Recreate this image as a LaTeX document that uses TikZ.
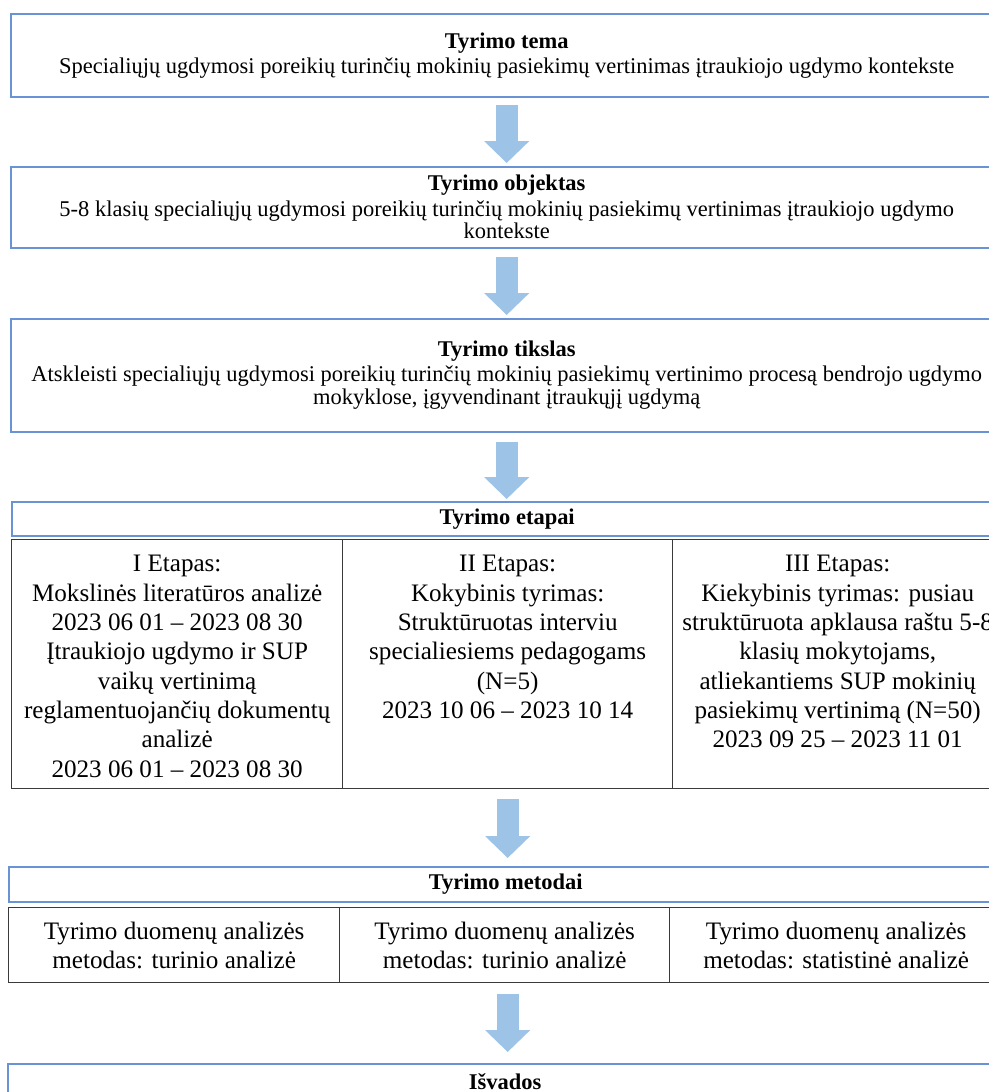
\documentclass[tikz,border=0pt]{standalone}
\usepackage{fontspec}
\setmainfont{Liberation Serif}
\usetikzlibrary{arrows.meta, calc}
\definecolor{cRemas}{HTML}{6A93D6}
\definecolor{cRodykle}{HTML}{9DC3E6}
\definecolor{cLinija}{HTML}{3A3A3A}

\begin{document}
\begin{tikzpicture}[
    x=0.02cm, y=-0.02cm, font=\fontsize{12.8}{12.9}\selectfont,
    blokas/.style={draw=cRemas, line width=0.9pt, anchor=north west,
                   inner sep=0pt, align=center, minimum width=19.84cm},
    galva/.style={blokas, font=\fontsize{12.8}{12.9}\selectfont\bfseries},
    langelis/.style={draw=cLinija, line width=0.8pt, anchor=north west,
                     inner sep=0pt, align=center},
    tekstas/.style={font=\fontsize{14.3}{16.7}\selectfont, align=center,
                    inner sep=0pt, anchor=north},
    rodykle/.style={-{Triangle[width=0.88cm, length=0.44cm]},
                    line width=0.44cm, cRodykle},
]
\useasboundingbox (0,0) rectangle (989,1092);
\clip (0,0) rectangle (989,1092);

% ===================== Tema, objektas, tikslas =====================
\node[blokas, minimum height=1.66cm] (tema) at (10,13)
      {\textbf{Tyrimo tema}\\[1.5pt]
       Specialiųjų ugdymosi poreikių turinčių mokinių pasiekimų vertinimas įtraukiojo ugdymo kontekste};

\node[blokas, minimum height=1.62cm] (objektas) at (10,166)
      {\textbf{Tyrimo objektas}\\[1.5pt]
       5-8 klasių specialiųjų ugdymosi poreikių turinčių mokinių pasiekimų vertinimas įtraukiojo ugdymo\\
       kontekste};

\node[blokas, minimum height=2.26cm] (tikslas) at (10,318)
      {\textbf{Tyrimo tikslas}\\[1.5pt]
       Atskleisti specialiųjų ugdymosi poreikių turinčių mokinių pasiekimų vertinimo procesą bendrojo ugdymo\\
       mokyklose, įgyvendinant įtraukųjį ugdymą};

% ===================== Tyrimo etapai =====================
\node[galva, minimum width=19.82cm, minimum height=0.68cm] (etapai) at (11,501) {Tyrimo etapai};

\node[langelis, minimum width=6.62cm, minimum height=4.98cm] (et1) at (11,539) {};
\node[langelis, minimum width=6.60cm, minimum height=4.98cm] (et2) at (342,539) {};
\node[langelis, minimum width=6.60cm, minimum height=4.98cm] (et3) at (672,539) {};

\node[tekstas] (et1txt) at ($(et1.north)+(0,16)$)
      {I Etapas:\\ Mokslinės literatūros analizė\\ 2023 06 01 – 2023 08 30\\
       Įtraukiojo ugdymo ir SUP\\ vaikų vertinimą\\ reglamentuojančių dokumentų\\
       analizė\\ 2023 06 01 – 2023 08 30};
\node[tekstas] (et2txt) at ($(et2.north)+(0,16)$)
      {II Etapas:\\ Kokybinis tyrimas:\\ Struktūruotas interviu\\
       specialiesiems pedagogams\\ (N=5)\\ 2023 10 06 – 2023 10 14};
\node[tekstas] (et3txt) at ($(et3.north)+(0,16)$)
      {III Etapas:\\ Kiekybinis tyrimas: pusiau\\ struktūruota apklausa raštu 5-8\\
       klasių mokytojams,\\ atliekantiems SUP mokinių\\ pasiekimų vertinimą (N=50)\\
       2023 09 25 – 2023 11 01};

% ===================== Tyrimo metodai =====================
\node[galva, minimum width=19.88cm, minimum height=0.70cm] (metodai) at (8,866) {Tyrimo metodai};

\node[langelis, font=\fontsize{14.3}{16.7}\selectfont, minimum width=6.62cm, minimum height=1.50cm] (met1) at (8,907)
      {Tyrimo duomenų analizės\\ metodas: turinio analizė};
\node[langelis, font=\fontsize{14.3}{16.7}\selectfont, minimum width=6.60cm, minimum height=1.50cm] (met2) at (339,907)
      {Tyrimo duomenų analizės\\ metodas: turinio analizė};
\node[langelis, font=\fontsize{14.3}{16.7}\selectfont, minimum width=6.66cm, minimum height=1.50cm] (met3) at (669,907)
      {Tyrimo duomenų analizės\\ metodas: statistinė analizė};

% ===================== Išvados =====================
\node[galva, minimum width=19.90cm, minimum height=0.70cm] (isvados) at (7,1063) {Išvados};

% ===================== Rodyklės =====================
\draw[rodykle] ($(tema.south)+(0,7)$) -- ($(objektas.north)+(0,-3)$);
\draw[rodykle] ($(objektas.south)+(0,8)$) -- ($(tikslas.north)+(0,-3)$);
\draw[rodykle] ($(tikslas.south)+(0,9)$) -- ($(tikslas.south |- etapai.north)+(0,-2)$);
\draw[rodykle] ($(et2.south)+(0,10)$) -- ($(et2.south |- metodai.north)+(0,-8)$);
\draw[rodykle] ($(et2.south |- met2.south)+(0,11)$) -- ($(et2.south |- isvados.north)+(0,-11)$);

\end{tikzpicture}
\end{document}
